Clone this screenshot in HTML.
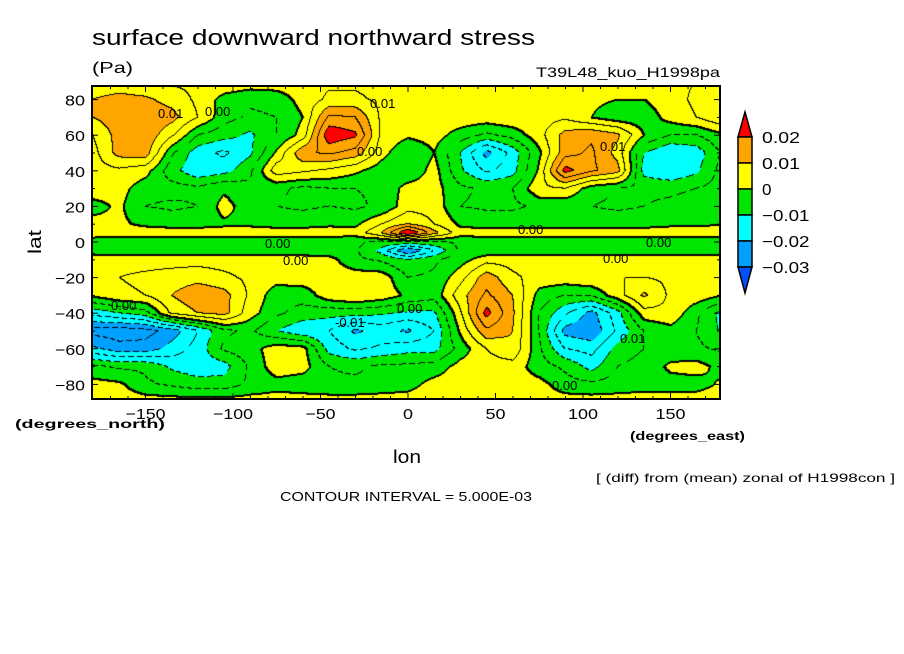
<!DOCTYPE html>
<html><head><meta charset="utf-8">
<style>
body{margin:0;background:#fff;width:904px;height:654px;position:relative;overflow:hidden;font-family:"Liberation Sans",sans-serif;}
#plot{position:absolute;left:92px;top:86px;}
</style></head>
<body>
<canvas id="plot" width="628" height="313"></canvas>
<svg id="ov" width="904" height="654" style="position:absolute;left:0;top:0;" font-family="Liberation Sans, sans-serif">
<text x="92" y="45" font-size="22" textLength="443" lengthAdjust="spacingAndGlyphs">surface downward northward stress</text>
<text x="92" y="73" font-size="16" textLength="41" lengthAdjust="spacingAndGlyphs">(Pa)</text>
<text x="536" y="77" font-size="14" textLength="184" lengthAdjust="spacingAndGlyphs">T39L48_kuo_H1998pa</text>
<text x="0" y="0" font-size="18" text-anchor="middle" transform="translate(41,242) rotate(-90)" textLength="24" lengthAdjust="spacingAndGlyphs">lat</text>
<text x="15" y="428" font-size="12" font-weight="bold" textLength="150" lengthAdjust="spacingAndGlyphs">(degrees_north)</text>
<text x="630" y="440" font-size="12" font-weight="bold" textLength="115" lengthAdjust="spacingAndGlyphs">(degrees_east)</text>
<text x="393" y="463" font-size="18" textLength="28" lengthAdjust="spacingAndGlyphs">lon</text>
<text x="596" y="482" font-size="12" textLength="299" lengthAdjust="spacingAndGlyphs">[ (diff) from (mean) zonal of H1998con ]</text>
<text x="280" y="501" font-size="13" textLength="252" lengthAdjust="spacingAndGlyphs">CONTOUR INTERVAL = 5.000E-03</text>
<g font-size="13">
<text x="205" y="116">0.00</text>
<text x="357" y="156">0.00</text>
<text x="370" y="108">0.01</text>
<text x="158" y="118">0.01</text>
<text x="265" y="248">0.00</text>
<text x="283" y="265">0.00</text>
<text x="518" y="234">0.00</text>
<text x="646" y="247">0.00</text>
<text x="603" y="263">0.00</text>
<text x="111" y="310">0.00</text>
<text x="397" y="313">0.00</text>
<text x="335" y="327">-0.01</text>
<text x="552" y="390">0.00</text>
<text x="600" y="151">0.01</text>
<text x="620" y="343">0.01</text>
</g>
</svg>

<script>
const lons=[-180,-165,-150,-135,-120,-105,-90,-75,-60,-45,-30,-15,0,15,30,45,60,75,90,105,120,135,150,165,180];
const lats=[90,80,70,60,50,40,30,20,10,5,0,-5,-10,-20,-30,-40,-50,-60,-70,-80,-90];
// values in units of 0.001 Pa
const r90=[6,6,5,4,4,4,3,3,3,4,4,3,3,3,3,3,3,3,3,3,3,3,4,5,6];
const r80=[10,12,11,8,4,-2,-4,-3,2,6,6,4,3,3,3,4,4,4,3,1,0,0,3,6,10];
const r70=[10,13,14,12,5,-3,-6,-5,0,16,15,4,3,2,3,3,4,3,4,0,-3,-3,2,5,10];
const r60=[5,12,14,6,-5,-8,-11,-5,2,24,21,4,1,2,-2,-6,-3,3,12,14,11,0,-5,-5,-1];
const r50=[3,12,13,-4,-13,-16,-11,1,14,16,13,2,-5,0,-10,-22,-13,-1,13,16,8,-10,-15,-13,-4];
const r40=[3,4,2,-8,-14,-12,-6,8,6,4,1,-3,-4,2,-9,-16,-12,1,22,16,12,-12,-15,-11,-3];
const r30=[3,2,-3,-3,-4,-1,-4,-4,-6,-5,-5,-4,2,2,-4,-6,-5,4,5,-3,-5,-6,-6,-5,-3];
const r20=[-2,1,-5,-6,-5,2,-3,-5,-6,-5,-6,-4,3,3,-5,-6,-6,-4,-4,-5,-6,-5,-4,-3,-2];
const r10=[2,1,-1,-2,-2,-1,-1,-2,-2,-1,-1,5,10,5,-1,-2,-2,-2,-2,-2,-2,-2,-1,-1,0];
const r5=[3,3,3,3,3,3,3,3,3,3,2,10,26,12,2,3,3,3,3,3,3,3,3,3,3];
const r0=[-3,-4,-4,-4,-4,-4,-4,-4,-4,-4,-4,-6,-5,-6,-4,-4,-4,-4,-4,-4,-4,-4,-4,-4,-3];
const rS5=[-2,-3,-3,-3,-3,-3,-3,-3,-3,-3,-4,-12,-26,-15,-4,-3,-3,-3,-3,-3,-3,-3,-3,-3,-2];
const rS10=[3,3,3,3,3,3,3,3,3,2,-4,-6,-10,-6,-2,3,3,3,3,3,3,3,3,3,3];
const rS20=[4,5,6,7,8,6,4,2,3,3,3,3,-5,-4,3,13,6,3,3,4,5,5,4,3,4];
const rS30=[1,4,5,10,14,12,4,-3,-3,3,5,3,-1,-3,8,16,10,-2,-5,-4,3,11,4,3,0];
const rS40=[-13,-10,-7,6,10,12,2,-4,-7,-8,-8,-9,-11,-11,4,22,11,-5,-14,-22,-12,3,4,-4,-12];
const rS50=[-27,-28,-27,-23,-15,-6,-4,-10,-14,-15,-21,-18,-21,-15,1,14,10,-5,-22,-24,-14,-5,-2,-5,-11];
const rS60=[-19,-23,-23,-18,-13,-4,-2,3,2,-12,-16,-14,-12,-12,-3,5,9,-4,-15,-17,-8,-5,-3,-4,-6];
const rS70=[-4,-6,-6,-11,-13,-12,-4,3,2,-5,-6,-4,-4,-3,2,3,3,-3,-6,-12,-5,-3,1,2,-2];
const rS80=[2,1,-4,-6,-8,-8,-4,-2,-3,-4,-4,-3,-2,2,3,3,3,2,-3,-4,-3,-2,-2,-2,1];
const rS90=[3,3,3,3,3,3,3,3,3,3,3,3,3,3,3,3,3,3,3,3,3,3,3,3,3];
const xTicks=[-150,-100,-50,0,50,100,150];
const yTicks=[-80,-60,-40,-20,0,20,40,60,80];
const cbLabels=["0.02","0.01","0","\u22120.01","\u22120.02","\u22120.03"];

const rows=[r90,r80,r70,r60,r50,r40,r30,r20,r10,r5,r0,rS5,rS10,rS20,rS30,rS40,rS50,rS60,rS70,rS80,rS90];
const X0=408,XS=1.75,Y0=242,YS=1.78,PL=92,PT=86,PW=628,PH=313;
const xOf=lon=>X0+lon*XS, yOf=lat=>Y0-lat*YS;
function val(lon,lat){
  let i=0;while(i<lons.length-2&&lon>lons[i+1])i++;
  let j=0;while(j<lats.length-2&&lat<lats[j+1])j++;
  let tx=(lon-lons[i])/(lons[i+1]-lons[i]);tx=Math.max(0,Math.min(1,tx));
  let ty=(lat-lats[j])/(lats[j+1]-lats[j]);ty=Math.max(0,Math.min(1,ty));
  const a=rows[j][i],b=rows[j][i+1],c=rows[j+1][i],d=rows[j+1][i+1];
  return (a*(1-tx)+b*tx)*(1-ty)+(c*(1-tx)+d*tx)*ty;
}
const cols={2:[255,0,0],1:[255,165,0],0:[255,255,0],"-1":[0,230,0],"-2":[0,255,255],"-3":[0,160,255],"-4":[0,80,255]};
const cv=document.getElementById('plot'),ctx=cv.getContext('2d');
const img=ctx.createImageData(PW,PH);
const V=new Float32Array(PW*PH);
for(let py=0;py<PH;py++){for(let px=0;px<PW;px++){
  const lon=(PL+px+0.5-X0)/XS, lat=(Y0-(PT+py+0.5))/YS;
  V[py*PW+px]=val(lon,lat);
}}
for(let py=0;py<PH;py++){for(let px=0;px<PW;px++){
  const v=V[py*PW+px];let k=Math.floor(v/10);k=Math.max(-4,Math.min(2,k));
  const c=cols[k];const o=(py*PW+px)*4;img.data[o]=c[0];img.data[o+1]=c[1];img.data[o+2]=c[2];img.data[o+3]=255;
}}
function blk(px,py){if(px<0||py<0||px>=PW||py>=PH)return;const o=(py*PW+px)*4;img.data[o]=0;img.data[o+1]=0;img.data[o+2]=0;}
for(let py=0;py<PH;py++){for(let px=0;px<PW;px++){
  const L=Math.floor(V[py*PW+px]/5);
  const nb=[[1,0],[0,1]];
  for(const [dx,dy] of nb){
    if(px+dx>=PW||py+dy>=PH)continue;
    const L2=Math.floor(V[(py+dy)*PW+px+dx]/5);
    if(L2!==L){
      const lev=Math.max(L,L2)*5;
      if(lev<0&&((px+py)%9)>5)continue;
      blk(px,py);
      if(lev===0){blk(px+1,py);blk(px,py+1);}
    }
  }
}}
ctx.putImageData(img,0,0);

const NS='http://www.w3.org/2000/svg',ov=document.getElementById('ov');
function mk(tag,at){const e=document.createElementNS(NS,tag);for(const k in at)e.setAttribute(k,at[k]);ov.appendChild(e);return e;}
const frame=mk('rect',{x:PL,y:PT,width:PW,height:PH,fill:'none',stroke:'#000','stroke-width':2});


for(let lon=-170;lon<=170;lon+=10){const x=xOf(lon),len=(lon%50===0)?6:3;
  mk('line',{x1:x,x2:x,y1:PT+PH,y2:PT+PH-len,stroke:'#000','stroke-width':1});
  mk('line',{x1:x,x2:x,y1:PT,y2:PT+len,stroke:'#000','stroke-width':1});}
for(let lat=-80;lat<=80;lat+=10){const y=yOf(lat),len=(lat%20===0)?6:3;
  mk('line',{x1:PL,x2:PL+len,y1:y,y2:y,stroke:'#000','stroke-width':1});
  mk('line',{x1:PL+PW,x2:PL+PW-len,y1:y,y2:y,stroke:'#000','stroke-width':1});}
xTicks.forEach(t=>{const s=t<0?'\u2212'+Math.abs(t):String(t);
  const e=mk('text',{x:xOf(t),y:419,'text-anchor':'middle','font-size':15,textLength:s.length*10,lengthAdjust:'spacingAndGlyphs'});
  e.textContent=s;
  
  });
yTicks.forEach(t=>{const s=t<0?'\u2212'+Math.abs(t):String(t);
  const e=mk('text',{x:85,y:yOf(t)+6,'text-anchor':'end','font-size':15,textLength:s.length*10,lengthAdjust:'spacingAndGlyphs'});
  e.textContent=s;
  
  });
// colorbar
const cbX=738,cbW=14,cbTop=137,cbH=26;
const cbCols=['#ffa500','#ffff00','#00e600','#00ffff','#00a0ff'];
mk('polygon',{points:`${cbX},${cbTop} ${cbX+cbW},${cbTop} ${cbX+cbW/2},112`,fill:'#ff0000',stroke:'#000','stroke-width':1.5});
cbCols.forEach((c,i)=>{const r=mk('rect',{x:cbX,y:cbTop+i*cbH,width:cbW,height:cbH,fill:c,stroke:'#000','stroke-width':1.5});
  
  });
const bt=cbTop+5*cbH;
mk('polygon',{points:`${cbX},${bt} ${cbX+cbW},${bt} ${cbX+cbW/2},293`,fill:'#0050ff',stroke:'#000','stroke-width':1.5});
cbLabels.forEach((s,i)=>{const e=mk('text',{x:762,y:cbTop+i*cbH+6,'font-size':16,textLength:s.length*9.5,lengthAdjust:'spacingAndGlyphs'});
  e.textContent=s;
  
  });
</script>
</body></html>
